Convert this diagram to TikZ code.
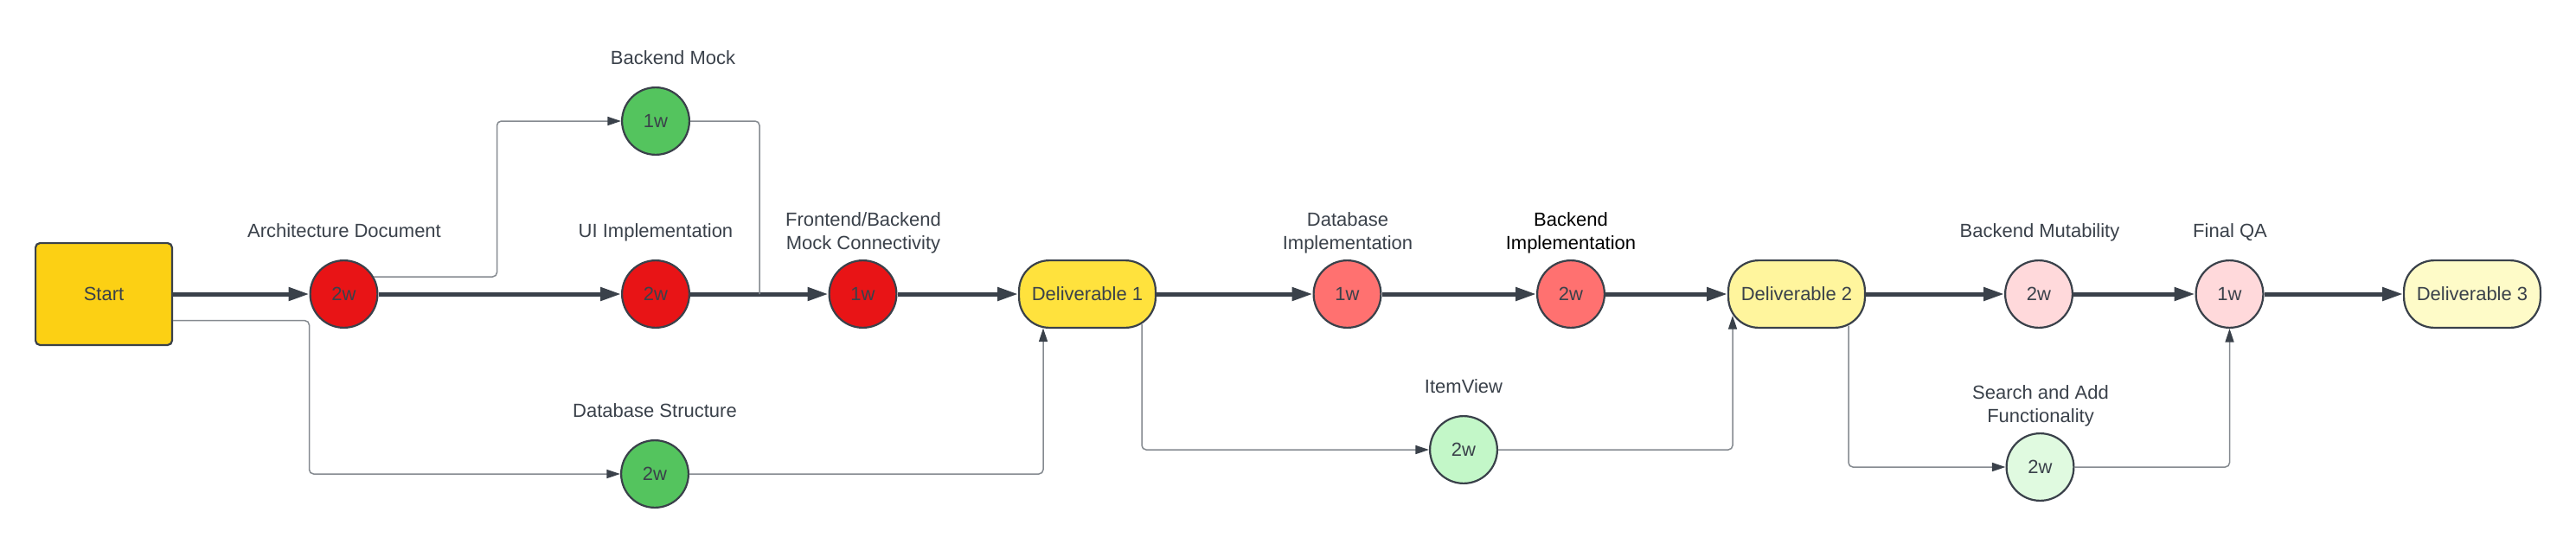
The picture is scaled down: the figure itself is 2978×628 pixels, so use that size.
\documentclass[tikz,border=0pt]{standalone}
\usepackage{fontspec}
\setmainfont{Liberation Sans}
\usetikzlibrary{arrows.meta}
\definecolor{ink}{HTML}{3A414A}
\definecolor{thinline}{HTML}{858A90}
\definecolor{cStart}{HTML}{FCD014}
\definecolor{cRed}{HTML}{E81416}
\definecolor{cGreen}{HTML}{54C45E}
\definecolor{cDOne}{HTML}{FFE23D}
\definecolor{cSalmon}{HTML}{FF7170}
\definecolor{cIV}{HTML}{C3F7C8}
\definecolor{cDTwo}{HTML}{FFF59D}
\definecolor{cPink}{HTML}{FFD9DB}
\definecolor{cSAF}{HTML}{E0FAE0}
\definecolor{cDThree}{HTML}{FEFBC8}
\begin{document}
\begin{tikzpicture}[x=0.5pt,y=-0.5pt,
  every node/.style={font=\fontsize{11pt}{13.5pt}\selectfont, text=ink},
  task/.style={circle, draw=ink, line width=1.1pt, minimum size=38.9pt, inner sep=0pt},
  deliv/.style={rectangle, rounded corners=17.5pt, draw=ink, line width=1.1pt, minimum width=78.9pt, minimum height=38.9pt, inner sep=0pt},
  startbox/.style={rectangle, rounded corners=2.5pt, draw=ink, line width=1.1pt, fill=cStart, minimum width=78.9pt, minimum height=58.9pt, inner sep=0pt},
  lblone/.style={text depth=0pt, inner sep=0pt},
  lbltwo/.style={align=center, inner sep=0pt},
  mainflow/.style={draw=ink, line width=2.5pt, -{Triangle[length=12pt,width=7.5pt]}},
  sideflow/.style={draw=thinline, line width=0.75pt, rounded corners=2.5pt, -{Triangle[length=7.8pt,width=5pt,color=ink]}},
  sideline/.style={draw=thinline, line width=0.75pt, rounded corners=2.5pt},
]
\useasboundingbox (0,0) rectangle (2978,628);
\fill[white] (0,0) rectangle (2978,628);

% nodes
\node[startbox] (start) at (120,340) {Start};
\node[task, fill=cRed] (ad) at (397.5,340) {2w};
\node[task, fill=cRed] (ui) at (758,340) {2w};
\node[task, fill=cRed] (fmc) at (997.5,340) {1w};
\node[deliv, fill=cDOne] (d1) at (1257,340) {Deliverable 1};
\node[task, fill=cSalmon] (dbi) at (1557.5,340) {1w};
\node[task, fill=cSalmon] (bi) at (1816,340) {2w};
\node[deliv, fill=cDTwo] (d2) at (2077,340) {Deliverable 2};
\node[task, fill=cPink] (bmu) at (2357,340) {2w};
\node[task, fill=cPink] (fqa) at (2577.5,340) {1w};
\node[deliv, fill=cDThree] (d3) at (2858,340) {Deliverable 3};
\node[task, fill=cGreen] (bm) at (758,140) {1w};
\node[task, fill=cGreen] (ds) at (757,548) {2w};
\node[task, fill=cIV] (iv) at (1692,520) {2w};
\node[task, fill=cSAF] (saf) at (2358.5,540) {2w};

% labels
\node[lblone] (lad) at (398,267) {Architecture Document};
\node[lblone] (lbm) at (778,67) {Backend Mock};
\node[lblone] (lui) at (758,267) {UI Implementation};
\node[lbltwo] (lfmc) at (998,269) {Frontend/Backend\\Mock Connectivity};
\node[lblone] (lds) at (757,475) {Database Structure};
\node[lbltwo] (ldbi) at (1558,269) {Database\\Implementation};
\node[lbltwo, text=black] (lbi) at (1816,269) {Backend\\Implementation};
\node[lblone] (liv) at (1692,447) {ItemView};
\node[lblone] (lbmu) at (2358,267) {Backend Mutability};
\node[lblone] (lfqa) at (2578,267) {Final QA};
\node[lbltwo] (lsaf) at (2359,469) {Search and Add\\Functionality};

% waypoints
\coordinate (j1) at (574.5,140);
\coordinate (j2) at (878,340);
\coordinate (d1in) at (1206,379.5);
\coordinate (d1out) at (1320,375);
\coordinate (d2in) at (2003,365);
\coordinate (d2out) at (2137,376.5);

% main flow
\draw[mainflow] (start.east) -- (ad.west);
\draw[mainflow] (ad.east) -- (ui.west);
\draw[mainflow] (ui.east) -- (fmc.west);
\draw[mainflow] (fmc.east) -- (d1.west);
\draw[mainflow] (d1.east) -- (dbi.west);
\draw[mainflow] (dbi.east) -- (bi.west);
\draw[mainflow] (bi.east) -- (d2.west);
\draw[mainflow] (d2.east) -- (bmu.west);
\draw[mainflow] (bmu.east) -- (fqa.west);
\draw[mainflow] (fqa.east) -- (d3.west);

% side flows
\draw[sideflow] (ad.30) -| (j1) -- (bm.west);
\draw[sideline] (bm.east) -| (j2);
\draw[sideflow] (start.-21.8) -| (ad.west |- ds.west) -- (ds.west);
\draw[sideflow] (ds.east) -| (d1in);
\draw[sideflow] (d1out) |- (iv.west);
\draw[sideflow] (iv.east) -| (d2in);
\draw[sideflow] (d2out) |- (saf.west);
\draw[sideflow] (saf.east) -| (fqa.south);
\end{tikzpicture}
\end{document}
